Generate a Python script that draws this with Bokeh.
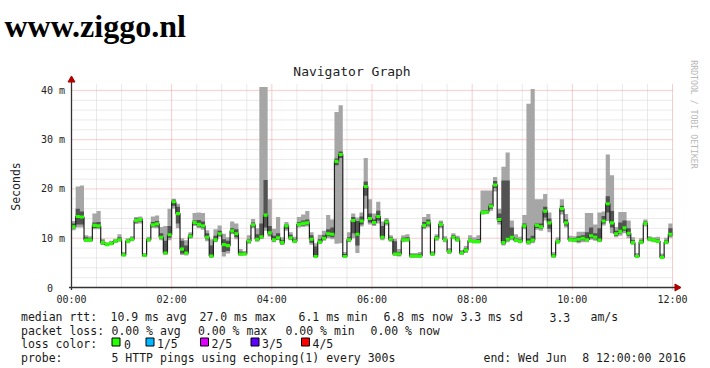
import math
from bokeh.plotting import figure
from bokeh.models import Range1d
from bokeh.embed import file_html
from bokeh.resources import INLINE
from bokeh.core.properties import value

# ---------------- data (ms, one value per 5-minute step, 00:00 .. 12:00) ----------------
STEP_MIN = 5
median = [12.3,14.4,14.3,9.6,9.6,12.6,12.5,9.1,8.7,8.9,
          9.4,9.7,6.6,9.4,9.8,13.6,13.8,6.5,9.7,12.7,
          12.9,10.2,7.0,10.7,17.4,15.0,7.8,7.0,10.4,13.2,
          12.8,12.5,10.2,6.4,9.7,10.9,8.7,8.5,11.5,10.9,
          6.8,6.8,9.4,12.7,9.8,10.3,14.7,11.1,9.7,10.1,
          9.1,12.5,10.1,9.4,12.8,13.0,13.1,9.8,6.3,9.2,
          10.0,10.9,10.8,25.6,27.0,6.3,9.7,13.6,10.8,13.5,
          20.5,14.0,13.2,14.4,10.2,13.3,9.8,6.8,6.8,9.7,
          9.7,6.4,6.4,6.4,12.6,13.1,6.8,10.0,12.8,9.7,
          7.3,10.2,9.7,7.0,7.6,9.5,9.3,9.3,15.2,15.3,
          16.5,20.8,13.8,9.1,9.8,10.2,9.6,9.4,12.5,9.2,
          9.6,12.6,12.3,15.5,13.1,6.4,9.3,16.0,13.1,9.7,
          9.6,9.8,10.0,9.7,10.5,10.2,9.6,13.5,17.0,13.1,
          10.9,11.4,12.1,11.0,9.1,6.3,9.2,13.0,9.8,9.6,
          9.4,6.1,9.2,10.8]
ping_min = [11.6,12.2,12.2,9.3,9.3,11.8,11.8,8.6,8.4,8.6,
            9.1,9.3,6.3,9.1,9.4,12.9,13.0,6.2,9.3,12.1,
            12.0,9.6,6.6,9.6,16.0,12.0,6.6,6.5,9.9,12.5,
            12.0,11.7,9.4,6.0,9.2,10.2,6.3,6.9,10.8,9.8,
            6.4,6.5,8.9,12.0,9.3,9.8,11.5,10.3,9.2,9.6,
            8.6,11.5,9.6,9.0,12.2,12.3,12.4,8.7,6.1,8.9,
            9.5,10.0,9.8,8.9,9.0,6.0,9.2,10.0,7.0,12.4,
            16.0,12.8,12.5,13.0,9.6,12.6,9.3,6.4,6.3,9.2,
            9.3,6.0,6.0,6.0,11.8,12.2,6.4,9.5,12.0,9.2,
            6.8,9.8,9.3,6.6,7.0,9.1,9.0,9.0,14.8,14.9,
            15.6,19.5,12.8,8.5,9.2,9.6,9.2,9.0,11.8,8.7,
            9.0,11.7,11.5,13.6,11.2,6.0,8.9,14.8,12.2,9.3,
            9.2,9.0,9.2,9.2,9.7,9.5,9.2,12.6,13.5,11.0,
            10.2,10.5,11.0,10.0,8.7,6.0,8.8,12.4,9.4,9.2,
            9.0,5.8,8.8,10.1]
ping_lo = [12.0,12.8,12.8,9.4,9.4,12.1,12.1,8.8,8.6,8.7,
           9.2,9.5,6.4,9.2,9.6,13.2,13.4,6.3,9.5,12.4,
           12.4,9.9,6.8,10.1,16.6,13.0,6.9,6.8,10.1,12.8,
           12.4,12.1,9.8,6.2,9.4,10.5,7.2,7.4,11.1,10.2,
           6.6,6.6,9.1,12.3,9.5,10.0,12.2,10.6,9.4,9.8,
           8.8,11.9,9.8,9.2,12.5,12.6,12.7,9.1,6.2,9.0,
           9.7,10.4,10.2,24.8,26.3,6.1,9.4,11.0,8.5,12.8,
           18.6,13.2,12.8,13.6,9.9,12.9,9.5,6.6,6.5,9.5,
           9.5,6.2,6.2,6.2,12.2,12.6,6.6,9.8,12.4,9.5,
           7.0,10.0,9.5,6.8,7.3,9.3,9.2,9.2,15.0,15.1,
           16.0,20.2,13.3,8.8,9.5,9.9,9.4,9.2,12.2,9.0,
           9.3,12.1,11.9,14.2,11.9,6.2,9.1,15.4,12.6,9.5,
           9.4,9.3,9.6,9.5,10.0,9.8,9.4,13.0,15.2,12.2,
           10.5,11.0,11.5,10.5,8.9,6.1,9.0,12.7,9.6,9.4,
           9.2,5.95,9.0,10.4]
ping_hi = [13.0,16.0,15.4,10.2,10.0,13.2,13.3,9.5,9.0,9.2,
           9.6,10.2,6.9,9.7,10.1,14.0,14.1,6.8,10.0,13.3,
           13.5,11.0,9.5,12.5,17.8,16.4,9.5,8.5,10.8,13.6,
           13.7,13.4,11.0,8.5,10.5,11.5,9.8,9.5,12.0,11.8,
           7.3,7.1,9.8,13.2,10.8,13.0,21.8,12.5,10.5,11.0,
           9.6,12.8,10.7,9.8,13.3,13.6,13.8,10.6,8.3,9.8,
           10.6,11.8,12.2,26.2,27.6,6.8,10.2,14.3,13.5,14.4,
           21.5,15.0,13.8,15.6,12.5,13.7,10.2,9.4,7.2,10.1,
           10.2,6.7,6.7,6.8,13.3,13.8,7.1,10.4,13.2,10.0,
           7.6,10.6,10.1,7.3,8.0,9.9,9.6,9.8,15.6,15.7,
           17.0,21.6,15.0,21.7,21.7,12.2,10.0,9.8,13.0,10.0,
           10.5,13.0,13.0,16.4,14.0,6.8,9.7,16.6,13.8,10.0,
           10.0,10.4,10.6,11.2,12.2,11.0,12.0,14.5,18.5,15.5,
           11.5,13.2,13.6,12.0,9.6,6.6,9.6,13.4,10.1,9.9,
           9.8,6.5,9.6,12.0]
ping_max = [13.5,20.5,20.7,10.6,10.4,15.0,15.5,9.9,9.2,9.5,
            9.9,10.8,7.2,10.0,10.4,14.3,14.4,7.0,10.3,14.4,
            14.6,12.3,12.5,16.0,18.0,17.0,10.0,9.6,11.2,15.1,
            15.2,15.1,11.6,9.8,11.8,12.6,10.9,10.2,13.4,13.0,
            7.8,7.4,10.6,13.9,12.0,40.7,40.7,17.9,11.9,14.3,
            10.2,13.3,11.2,10.3,14.3,14.8,15.5,11.2,9.0,10.7,
            11.5,14.7,13.8,35.6,37.0,7.2,11.2,15.0,14.2,15.2,
            26.3,17.9,15.0,17.4,13.4,14.1,10.6,9.9,7.8,10.6,
            10.8,7.0,7.0,7.2,14.3,14.9,7.4,10.8,13.6,10.4,
            8.0,11.0,10.5,7.6,8.4,10.6,10.2,10.6,19.7,19.7,
            19.7,22.4,16.0,24.5,27.4,13.6,10.8,10.3,14.7,37.3,
            40.3,17.9,17.9,19.0,15.2,7.2,10.2,17.9,14.9,10.5,
            10.4,11.3,11.3,15.1,15.1,12.8,15.2,15.4,27.0,22.8,
            12.3,15.3,15.3,13.6,10.2,7.0,10.0,13.8,10.4,10.2,
            10.3,6.9,10.1,13.0]

x_ticks = [0, 120, 240, 360, 480, 600, 720]
x_tick_labels = ["00:00", "02:00", "04:00", "06:00", "08:00", "10:00", "12:00"]
x_minor = [30, 60, 90, 150, 180, 210, 270, 300, 330, 390, 420, 450, 510, 540, 570, 630, 660, 690]
y_ticks = [0, 10, 20, 30, 40]
y_tick_labels = ["0", "10 m", "20 m", "30 m", "40 m"]
y_minor = [2, 4, 6, 8, 12, 14, 16, 18, 22, 24, 26, 28, 32, 34, 36, 38]

loss_labels = ["0", "1/5", "2/5", "3/5", "4/5"]
loss_colors = ["#26ff00", "#00b8ff", "#dd00ff", "#5e00ff", "#ff0000"]

# ---------------- layout ----------------
W, H = 710, 368
FL, FR, FT, FB = 71, 672, 83, 287          # pixel box of the graph area
XMAX, YTOP = 720.0, 41.4                    # minutes / ms at the graph-area edges
MONO = "DejaVu Sans Mono"


def dx(px):
    return (px - FL) / (FR - FL) * XMAX


def dy(py):
    return (FB - py) / (FB - FT) * YTOP


# the frame covers the whole page; ranges are chosen so that the time/ms graph area
# falls on the pixel box above, leaving room for the texts around it.
p = figure(width=W, height=H, x_range=Range1d(dx(0), dx(W)), y_range=Range1d(dy(H), dy(0)),
           output_backend="svg", toolbar_location=None, title=None, min_border=0,
           min_border_left=0, min_border_right=0, min_border_top=0, min_border_bottom=0)
p.xaxis.visible = False
p.yaxis.visible = False
p.xgrid.visible = False
p.ygrid.visible = False
p.outline_line_color = None
p.background_fill_color = "white"
p.border_fill_color = "white"

# grid
p.segment(x0=x_minor, x1=x_minor, y0=[0] * len(x_minor), y1=[YTOP] * len(x_minor),
          line_color="#d4d4d4", line_dash="1 1", line_width=1)
p.segment(x0=[0] * len(y_minor), x1=[XMAX] * len(y_minor), y0=y_minor, y1=y_minor,
          line_color="#d4d4d4", line_dash="1 1", line_width=1)
p.segment(x0=x_ticks, x1=x_ticks, y0=[dy(FB + 2)] * len(x_ticks), y1=[YTOP] * len(x_ticks),
          line_color="#f29a9a", line_dash="1 1", line_width=1)
p.segment(x0=[0] * len(y_ticks), x1=[XMAX] * len(y_ticks), y0=y_ticks, y1=y_ticks,
          line_color="#f29a9a", line_dash="1 1", line_width=1)

# step data
t = [i * STEP_MIN for i in range(len(median) + 1)]


def ext(a):
    return list(a) + [a[-1]]


p.varea_step(x=t, y1=ext(ping_min), y2=ext(ping_max), step_mode="after",
             fill_color="#a6a6a6")
p.varea_step(x=t, y1=ext(ping_lo), y2=ext(ping_hi), step_mode="after",
             fill_color="#525252")
p.step(x=t, y=ext(median), mode="after", line_color="#202020", line_width=1.2)
sw = 0.32
p.varea_step(x=t, y1=[m - sw for m in ext(median)], y2=[m + sw for m in ext(median)],
             step_mode="after", fill_color=loss_colors[0])

# axis lines and arrow heads
p.segment(x0=[0], x1=[0], y0=[dy(FB + 2.5)], y1=[dy(79)], line_color="#333333", line_width=1.3)
p.segment(x0=[dx(FL - 2.5)], x1=[dx(676)], y0=[0], y1=[0], line_color="#333333", line_width=1.3)
p.scatter(x=[0], y=[dy(79.5)], marker="triangle", size=7, fill_color="#b00000",
          line_color="#b00000")
p.scatter(x=[dx(676.5)], y=[0], marker="triangle", size=7, angle=-math.pi / 2,
          fill_color="#b00000", line_color="#b00000")


def txt(s, px, py, size="11.5px", align="left", baseline="alphabetic",
        font=MONO, color="#1a1a1a", angle=0.0, style="normal"):
    p.text(x=[dx(px)], y=[dy(py)], text=[s], text_font=value(font),
           text_font_size=value(size), text_align=align, text_baseline=baseline,
           text_color=color, angle=angle, text_font_style=style)


# tick labels
p.text(x=x_ticks, y=[dy(299)] * len(x_ticks), text=x_tick_labels, text_font=value(MONO),
       text_font_size=value("10px"), text_align="center", text_baseline="alphabetic",
       text_color="#222222")
p.text(x=[dx(52.5) if l == "0" else dx(64.5) for l in y_tick_labels], y=y_ticks,
       text=y_tick_labels, text_font=value(MONO), text_font_size=value("10px"),
       text_align="right", text_baseline="middle", text_color="#222222")

# titles
txt("www.ziggo.nl", 4, 25, size="32px", font="Liberation Serif", color="#000000",
    style="bold")
txt("Navigator Graph", 351.5, 70.5, size="13px", align="center", color="#222222")
txt("Seconds", 15, 186, size="11.5px", align="center", baseline="middle",
    angle=math.pi / 2, color="#222222")
txt("RRDTOOL / TOBI OETIKER", 693.5, 114, size="8.2px", align="center",
    baseline="middle", angle=-math.pi / 2, color="#b8b8b8")

# legend rows
r1, r2, r3, r4 = 316.5, 330, 343.5, 357
for s, x in [("median rtt:", 20.5), ("10.9 ms avg", 110), ("27.0 ms max", 199),
             ("6.1 ms min", 298), ("6.8 ms now", 383), ("3.3 ms sd", 460),
             ("3.3", 549), ("am/s", 590)]:
    txt(s, x, r1)
for s, x in [("packet loss:", 20.5), ("0.00 % avg", 111), ("0.00 % max", 197.5),
             ("0.00 % min", 285), ("0.00 % now", 370)]:
    txt(s, x, r2)
txt("loss color:", 20.5, r3)
sq_left = [111.5, 145.5, 200, 250.5, 301]
txt_left = [123.5, 156.5, 211, 261.5, 312]
p.quad(left=[dx(s) for s in sq_left], right=[dx(s + 8) for s in sq_left],
       bottom=[dy(345.5)] * 5, top=[dy(337.5)] * 5, fill_color=loss_colors,
       line_color="#000000", line_width=1)
p.text(x=[dx(s) for s in txt_left], y=[dy(r3)] * 5, text=loss_labels,
       text_font=value(MONO), text_font_size=value("11.5px"), text_align="left",
       text_baseline="alphabetic", text_color="#1a1a1a")
txt("probe:", 20.5, r4)
txt("5 HTTP pings using echoping(1) every 300s", 111, r4)
txt("end: Wed Jun", 483, r4)
txt("8 12:00:00 2016", 685.5, r4, align="right")

open("out.html", "w").write(file_html(p, INLINE))
